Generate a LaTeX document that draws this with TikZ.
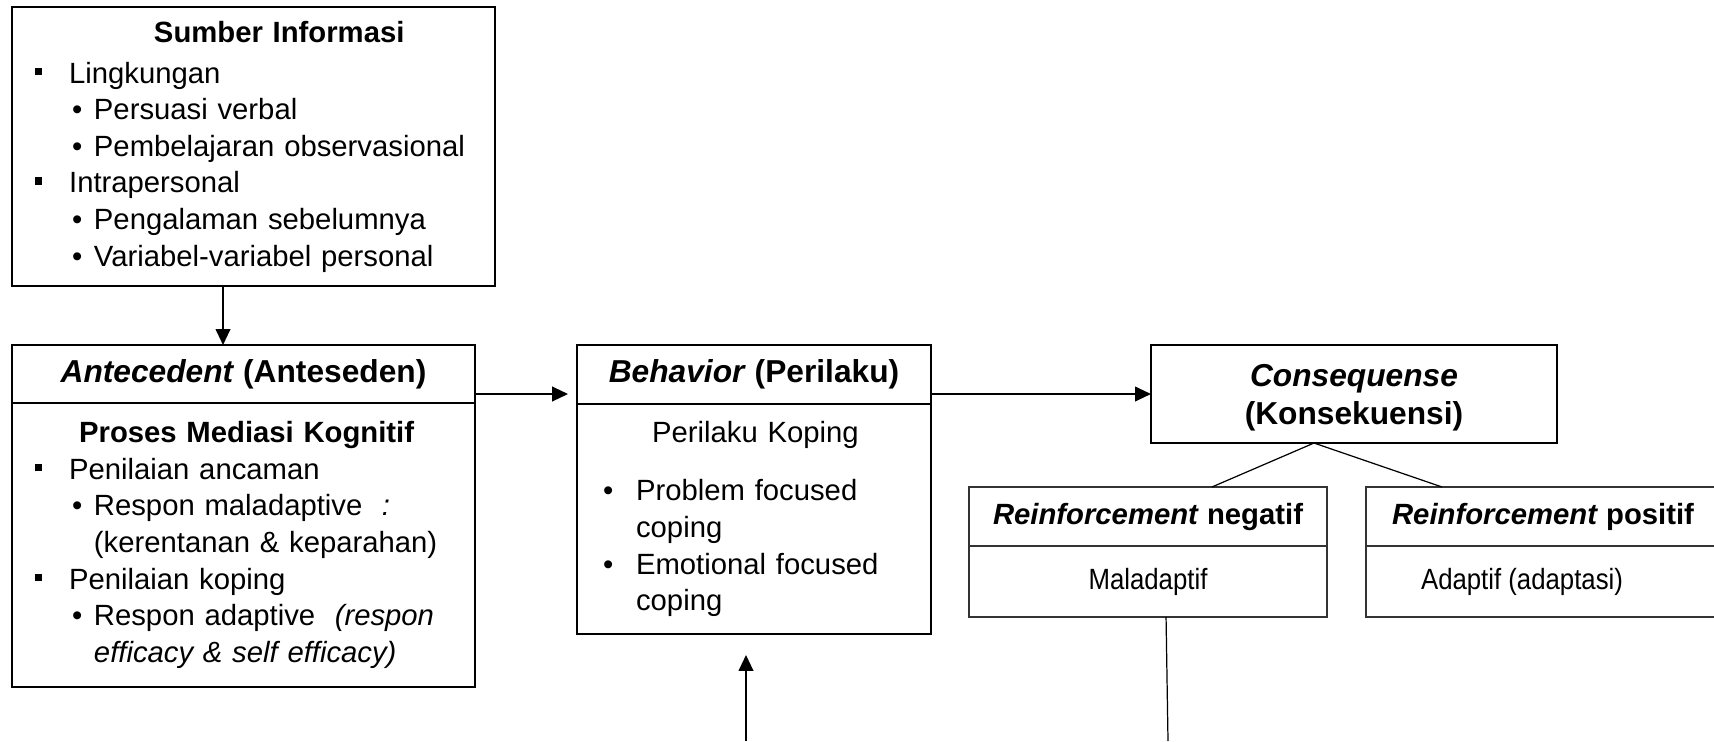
\documentclass[tikz,border=0pt]{standalone}
\usepackage{fontspec}
\setmainfont{Liberation Sans}
\newfontfamily\narrowfont[FakeStretch=0.88]{Liberation Sans}
\usetikzlibrary{positioning,arrows.meta}

\newcommand{\sqbul}{\makebox[23.4pt][l]{\hspace*{9.4pt}\rule[3.3pt]{3pt}{3pt}}}
\newcommand{\dotbul}{\makebox[33.6pt][l]{\hspace*{24.6pt}\textbullet}}
\newcommand{\behbul}{\makebox[24.2pt][l]{\hspace*{10.7pt}\textbullet}}

\begin{document}
\begin{tikzpicture}[
                x=0.41pt, y=-0.41pt,
                every node/.style={font=\fontsize{12}{15}\selectfont},
                box/.style={rectangle,draw=black,line width=0.7pt,inner sep=0pt,outer sep=0pt},
                head/.style={box,font=\fontsize{13}{15.6}\selectfont\bfseries},
                list/.style={box,align=left},
                rhead/.style={rectangle,draw=black!80,line width=0.5pt,inner sep=0pt,outer sep=0pt,minimum height=24.2pt,font=\fontsize{12}{15}\selectfont\bfseries},
                rbody/.style={rectangle,draw=black!80,line width=0.5pt,inner sep=0pt,outer sep=0pt,minimum height=29.1pt},
                arrow/.style={-{Triangle[length=6.5pt,width=6pt]},line width=0.7pt},
            ]
            \useasboundingbox (0,0) rectangle (1714,741);

            % Define nodes
            \node[list,text width=198pt,minimum height=114.4pt] (Sumber) at (253.5,146.5) {%
                \hspace*{58.2pt}\textbf{Sumber Informasi}\\[1.8pt]
                \sqbul Lingkungan\\
                \dotbul Persuasi verbal\\
                \dotbul Pembelajaran observasional\\
                \sqbul Intrapersonal\\
                \dotbul Pengalaman sebelumnya\\
                \dotbul Variabel-variabel personal};
            \node[head,minimum width=189.8pt,minimum height=23.8pt] (AnteH) at (243.5,374) {\textit{Antecedent} (Anteseden)};
            \node[list,text width=189.8pt,minimum height=116.4pt,below=0pt of AnteH] (AnteB) {%
                \hspace*{27.5pt}\textbf{Proses Mediasi Kognitif}\\
                \sqbul Penilaian ancaman\\
                \dotbul Respon maladaptive~~\textit{:}\\
                \hspace*{33.6pt}(kerentanan \& keparahan)\\
                \sqbul Penilaian koping\\
                \dotbul Respon adaptive~~\textit{(respon}\\
                \hspace*{33.6pt}\textit{efficacy \& self efficacy)}};
            \node[head,minimum width=145.1pt,minimum height=24.2pt] (BehH) at (754,374.5) {\textit{Behavior} (Perilaku)};
            \node[list,text width=145.1pt,minimum height=94.3pt,below=0pt of BehH] (BehB) {%
                \hspace*{30.8pt}Perilaku Koping\\[9pt]
                \behbul Problem focused\\
                \hspace*{24.2pt}coping\\
                \behbul Emotional focused\\
                \hspace*{24.2pt}coping};
            \node[head,minimum width=166.5pt,minimum height=40.2pt,align=center] (Cons) at (1354,394) {\rule{0pt}{12.5pt}\textit{Consequense}\\(Konsekuensi)};
            \node[rhead,minimum width=146.8pt] (NegH) at (1148,516.5) {\textit{Reinforcement} negatif};
            \node[rbody,minimum width=146.8pt,below=0pt of NegH] (NegB) {\narrowfont Maladaptif};
            \node[rhead,minimum width=145.1pt] (PosH) at (1543,516.5) {\textit{Reinforcement} positif};
            \node[rbody,minimum width=145.1pt,below=0pt of PosH] (PosB) {\narrowfont Adaptif (adaptasi)\hspace*{17.2pt}};
            \coordinate (NegEnd) at (1168,741);
            \coordinate (BehStart) at (746,741);

            % Draw connections
            \draw[arrow] ([xshift=-12.5pt]Sumber.south) -- ([xshift=-8.4pt]AnteH.north);
            \draw[arrow,shorten >=3.7pt] (AnteH.east |- Cons.west) -- (BehH.west |- Cons.west);
            \draw[arrow] (BehH.east |- Cons.west) -- (Cons.west);
            \draw[line width=0.5pt] ([xshift=-16.4pt]Cons.south) -- ([xshift=26.2pt]NegH.north);
            \draw[line width=0.5pt] ([xshift=-16.4pt]Cons.south) -- ([xshift=-41.4pt]PosH.north);
            \draw[line width=0.5pt] ([xshift=7.4pt]NegB.south) -- (NegEnd);
            \draw[arrow,shorten >=8.6pt] (BehStart) -- (BehStart |- BehB.south);

            \end{tikzpicture}
\end{document}
